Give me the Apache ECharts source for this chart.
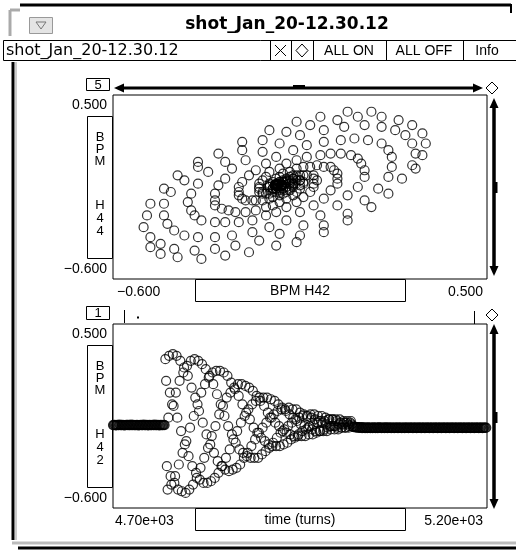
<!DOCTYPE html>
<html>
<head>
<meta charset="utf-8">
<script src="https://cdn.jsdelivr.net/npm/echarts@6.0.0/dist/echarts.min.js"></script>
<style>
html, body { margin: 0; padding: 0; background: #fff; }
#main { width: 516px; height: 550px; }
</style>
</head>
<body>
<div id="main"></div>
<script>
// turn numbers: first recorded turn and the turn of the kick
var firstTurn = 4700;
var kickTurn = 4770;

// BPM H42 before the kick (one value per turn, 4700..4769)
var h42Before = [
  -0.104,-0.105,-0.103,-0.104,-0.106,-0.104,-0.103,-0.105,-0.104,-0.102,
  -0.104,-0.105,-0.104,-0.103,-0.104,-0.106,-0.104,-0.105,-0.103,-0.104,
  -0.103,-0.104,-0.105,-0.104,-0.102,-0.104,-0.105,-0.103,-0.104,-0.104,
  -0.105,-0.104,-0.103,-0.104,-0.106,-0.104,-0.104,-0.103,-0.105,-0.104,
  -0.104,-0.102,-0.104,-0.105,-0.104,-0.103,-0.104,-0.106,-0.104,-0.103,
  -0.105,-0.104,-0.104,-0.103,-0.104,-0.105,-0.102,-0.104,-0.104,-0.105,
  -0.103,-0.104,-0.106,-0.104,-0.103,-0.104,-0.105,-0.104,-0.103,-0.104
];
// BPM H44 before the kick
var h44Before = [
  -0.040,-0.042,-0.038,-0.041,-0.039,-0.040,-0.043,-0.040,-0.038,-0.041,
  -0.039,-0.040,-0.042,-0.040,-0.037,-0.041,-0.040,-0.039,-0.042,-0.040,
  -0.041,-0.038,-0.040,-0.042,-0.039,-0.040,-0.041,-0.038,-0.040,-0.043,
  -0.040,-0.039,-0.041,-0.040,-0.038,-0.042,-0.040,-0.039,-0.041,-0.040,
  -0.038,-0.040,-0.042,-0.039,-0.040,-0.041,-0.037,-0.040,-0.042,-0.040,
  -0.039,-0.041,-0.040,-0.038,-0.042,-0.040,-0.039,-0.041,-0.040,-0.038,
  -0.040,-0.042,-0.039,-0.040,-0.041,-0.038,-0.040,-0.042,-0.040,-0.039
];

// BPM H42 after the kick (turns 4770..5019)
var h42Kick = [
   0.29, 0.16,-0.35,-0.49,-0.06,  0.31, 0.09,-0.41,-0.46, 0.02,
   0.32, 0.01,-0.45,-0.41, 0.09,  0.31,-0.06,-0.49,-0.34, 0.16,
   0.28,-0.14,-0.50,-0.27, 0.21,  0.24,-0.22,-0.51,-0.20, 0.25,
   0.19,-0.29,-0.49,-0.12, 0.28,  0.12,-0.35,-0.46,-0.05, 0.29,
   0.06,-0.39,-0.42, 0.02, 0.28, -0.02,-0.43,-0.36, 0.09, 0.26,
  -0.09,-0.45,-0.30, 0.14, 0.23, -0.16,-0.45,-0.24, 0.18, 0.19,
  -0.22,-0.44,-0.17, 0.21, 0.14, -0.27,-0.42,-0.11, 0.22, 0.08,
  -0.32,-0.39,-0.04, 0.22, 0.02, -0.35,-0.35, 0.01, 0.21,-0.05,
  -0.37,-0.30, 0.06, 0.19,-0.11, -0.38,-0.25, 0.09, 0.15,-0.16,
  -0.37,-0.19, 0.12, 0.11,-0.21, -0.36,-0.14, 0.14, 0.07,-0.25,
  -0.34,-0.09, 0.14, 0.02,-0.27, -0.30,-0.05, 0.13,-0.03,-0.29,
  -0.27,-0.01, 0.12,-0.07,-0.30, -0.23, 0.02, 0.10,-0.12,-0.30,
  -0.19, 0.04, 0.07,-0.15,-0.30, -0.15, 0.06, 0.04,-0.18,-0.28,
  -0.12, 0.06, 0.01,-0.20,-0.26, -0.09, 0.06,-0.03,-0.22,-0.24,
  -0.06, 0.05,-0.06,-0.23,-0.21, -0.04, 0.04,-0.09,-0.23,-0.18,
  -0.02, 0.02,-0.11,-0.23,-0.15, -0.01, 0.00,-0.14,-0.22,-0.13,
  -0.01,-0.02,-0.15,-0.21,-0.11,  0.00,-0.04,-0.16,-0.19,-0.09,
  -0.01,-0.06,-0.17,-0.18,-0.07, -0.01,-0.08,-0.17,-0.16,-0.06,
  -0.03,-0.10,-0.17,-0.14,-0.05, -0.04,-0.11,-0.17,-0.13,-0.05,
  -0.05,-0.12,-0.16,-0.11,-0.04, -0.06,-0.13,-0.16,-0.10,-0.04,
  -0.07,-0.14,-0.15,-0.09,-0.05, -0.08,-0.14,-0.14,-0.08,-0.05,
  -0.09,-0.14,-0.13,-0.08,-0.06, -0.10,-0.14,-0.12,-0.07,-0.07,
  -0.11,-0.13,-0.11,-0.07,-0.07, -0.11,-0.13,-0.11,-0.07,-0.08,
  -0.12,-0.13,-0.10,-0.07,-0.09, -0.12,-0.12,-0.10,-0.08,-0.09,
  -0.12,-0.12,-0.09,-0.08,-0.10, -0.12,-0.11,-0.09,-0.08,-0.10
];
// BPM H44 after the kick (turns 4770..5019)
var h44Kick = [
   0.06, 0.40, 0.10,-0.41,-0.38,  0.14, 0.40, 0.02,-0.45,-0.32,
   0.21, 0.37,-0.06,-0.47,-0.25,  0.27, 0.34,-0.15,-0.48,-0.17,
   0.32, 0.29,-0.22,-0.46,-0.09,  0.35, 0.22,-0.29,-0.44, 0.00,
   0.37, 0.15,-0.35,-0.40, 0.08,  0.37, 0.07,-0.39,-0.34, 0.15,
   0.35,-0.01,-0.42,-0.28, 0.21,  0.32,-0.08,-0.43,-0.21, 0.26,
   0.28,-0.15,-0.42,-0.13, 0.29,  0.23,-0.22,-0.40,-0.06, 0.31,
   0.17,-0.27,-0.37, 0.01, 0.32,  0.10,-0.31,-0.33, 0.07, 0.31,
   0.04,-0.34,-0.28, 0.13, 0.29, -0.03,-0.35,-0.22, 0.17, 0.26,
  -0.09,-0.35,-0.16, 0.21, 0.21, -0.14,-0.34,-0.10, 0.23, 0.16,
  -0.19,-0.32,-0.05, 0.24, 0.11, -0.22,-0.29, 0.01, 0.23, 0.06,
  -0.25,-0.25, 0.05, 0.22, 0.00, -0.26,-0.20, 0.09, 0.20,-0.04,
  -0.26,-0.16, 0.12, 0.17,-0.09, -0.26,-0.12, 0.14, 0.13,-0.13,
  -0.25,-0.07, 0.15, 0.09,-0.16, -0.22,-0.03, 0.15, 0.05,-0.18,
  -0.20, 0.00, 0.14, 0.02,-0.19, -0.17, 0.03, 0.13,-0.02,-0.20,
  -0.14, 0.05, 0.11,-0.05,-0.20, -0.11, 0.07, 0.09,-0.08,-0.19,
  -0.08, 0.07, 0.06,-0.10,-0.17, -0.05, 0.08, 0.04,-0.12,-0.16,
  -0.03, 0.07, 0.01,-0.13,-0.14, -0.01, 0.07,-0.01,-0.13,-0.12,
   0.00, 0.06,-0.03,-0.13,-0.10,  0.02, 0.04,-0.05,-0.13,-0.08,
   0.02, 0.03,-0.06,-0.12,-0.06,  0.02, 0.01,-0.08,-0.11,-0.04,
   0.02, 0.00,-0.08,-0.10,-0.03,  0.02,-0.02,-0.09,-0.09,-0.02,
   0.02,-0.03,-0.09,-0.08,-0.01,  0.01,-0.04,-0.09,-0.07,-0.01,
   0.00,-0.05,-0.08,-0.06,-0.01, -0.01,-0.05,-0.08,-0.05, 0.00,
  -0.02,-0.06,-0.08,-0.04, 0.00, -0.02,-0.06,-0.07,-0.03,-0.01,
  -0.03,-0.06,-0.06,-0.03,-0.01, -0.04,-0.06,-0.06,-0.03,-0.02,
  -0.04,-0.06,-0.05,-0.03,-0.02, -0.04,-0.06,-0.05,-0.02,-0.02
];

// BPM H42 once the oscillation has died out (turns 5020..5199)
var h42After = [
  -0.112,-0.115,-0.117,-0.114,-0.118,-0.116,-0.119,-0.117,-0.120,-0.118,
  -0.121,-0.119,-0.117,-0.122,-0.120,-0.118,-0.121,-0.123,-0.119,-0.120,
  -0.122,-0.118,-0.121,-0.120,-0.123,-0.119,-0.121,-0.122,-0.118,-0.120,
  -0.121,-0.123,-0.120,-0.119,-0.122,-0.120,-0.118,-0.121,-0.120,-0.122,
  -0.119,-0.121,-0.120,-0.123,-0.120,-0.118,-0.121,-0.122,-0.120,-0.119,
  -0.121,-0.120,-0.122,-0.119,-0.120,-0.121,-0.123,-0.120,-0.119,-0.121,
  -0.120,-0.122,-0.120,-0.119,-0.121,-0.120,-0.122,-0.121,-0.119,-0.120,
  -0.122,-0.120,-0.121,-0.119,-0.120,-0.122,-0.121,-0.120,-0.119,-0.121,
  -0.120,-0.122,-0.120,-0.121,-0.119,-0.120,-0.122,-0.121,-0.120,-0.119,
  -0.121,-0.120,-0.122,-0.120,-0.121,-0.119,-0.120,-0.122,-0.121,-0.120,
  -0.119,-0.121,-0.120,-0.122,-0.120,-0.121,-0.119,-0.120,-0.122,-0.121,
  -0.120,-0.119,-0.121,-0.120,-0.122,-0.120,-0.121,-0.119,-0.120,-0.122,
  -0.121,-0.120,-0.119,-0.121,-0.120,-0.122,-0.120,-0.121,-0.119,-0.120,
  -0.122,-0.121,-0.120,-0.119,-0.121,-0.120,-0.122,-0.120,-0.121,-0.119,
  -0.120,-0.122,-0.121,-0.120,-0.119,-0.121,-0.120,-0.122,-0.120,-0.121,
  -0.119,-0.120,-0.122,-0.121,-0.120,-0.119,-0.121,-0.120,-0.122,-0.120,
  -0.121,-0.119,-0.120,-0.122,-0.121,-0.120,-0.119,-0.121,-0.120,-0.122,
  -0.120,-0.121,-0.119,-0.120,-0.122,-0.121,-0.120,-0.119,-0.121,-0.120
];
// BPM H44 once the oscillation has died out (turns 5020..5199)
var h44After = [
  -0.030,-0.036,-0.042,-0.034,-0.040,-0.038,-0.035,-0.041,-0.037,-0.039,
  -0.040,-0.036,-0.038,-0.041,-0.039,-0.037,-0.040,-0.038,-0.042,-0.039,
  -0.038,-0.040,-0.037,-0.039,-0.041,-0.038,-0.040,-0.039,-0.037,-0.040,
  -0.041,-0.038,-0.039,-0.040,-0.037,-0.039,-0.041,-0.038,-0.040,-0.039,
  -0.038,-0.040,-0.039,-0.037,-0.041,-0.039,-0.038,-0.040,-0.039,-0.041,
  -0.039,-0.038,-0.040,-0.039,-0.037,-0.040,-0.041,-0.038,-0.039,-0.040,
  -0.038,-0.040,-0.039,-0.041,-0.038,-0.039,-0.040,-0.037,-0.039,-0.040,
  -0.041,-0.039,-0.038,-0.040,-0.039,-0.038,-0.040,-0.041,-0.039,-0.038,
  -0.040,-0.039,-0.037,-0.040,-0.041,-0.038,-0.039,-0.040,-0.038,-0.039,
  -0.041,-0.040,-0.038,-0.039,-0.040,-0.037,-0.039,-0.041,-0.040,-0.038,
  -0.039,-0.040,-0.038,-0.041,-0.039,-0.038,-0.040,-0.039,-0.037,-0.040,
  -0.041,-0.038,-0.039,-0.040,-0.038,-0.039,-0.041,-0.040,-0.038,-0.039,
  -0.040,-0.037,-0.039,-0.041,-0.040,-0.038,-0.039,-0.040,-0.038,-0.041,
  -0.039,-0.040,-0.038,-0.039,-0.041,-0.040,-0.037,-0.039,-0.040,-0.038,
  -0.041,-0.039,-0.040,-0.038,-0.039,-0.040,-0.041,-0.038,-0.039,-0.040,
  -0.038,-0.039,-0.041,-0.040,-0.038,-0.039,-0.040,-0.037,-0.039,-0.041,
  -0.040,-0.038,-0.039,-0.040,-0.038,-0.041,-0.039,-0.040,-0.038,-0.039,
  -0.041,-0.040,-0.038,-0.039,-0.040,-0.038,-0.041,-0.039,-0.040,-0.038
];

// axis ranges and tick labels
var bpmRange = [-0.6, 0.5];
var turnRange = [4700, 5200];
var bpmTickLabels = ['\u22120.600', '0.500'];
var turnTickLabels = ['4.70e+03', '5.20e+03'];

var windowTitle = 'shot_Jan_20-12.30.12';
var toolbarButtons = ['ALL ON', 'ALL OFF', 'Info'];
var topXName = 'BPM H42';
var topYName = ['B', 'P', 'M', 'H', '4', '4'];
var bottomXName = 'time (turns)';
var bottomYName = ['B', 'P', 'M', 'H', '4', '2'];
var plotNumbers = ['5', '1'];


var chartDom = document.getElementById('main');
var myChart = echarts.init(chartDom, null, { renderer: 'canvas' });
var option;

var h42 = h42Before.concat(h42Kick, h42After);
var h44 = h44Before.concat(h44Kick, h44After);

var phaseData = [];
var timeData = [];
for (var i = 0; i < h42.length; i++) {
    phaseData.push([h42[i], h44[i]]);
    timeData.push([firstTurn + i, h42[i]]);
}

var FONT = 'Liberation Sans';

function bpmAxis(idx) {
    return {
        gridIndex: idx,
        type: 'value',
        min: bpmRange[0],
        max: bpmRange[1],
        interval: bpmRange[1] - bpmRange[0],
        axisLine: { show: false },
        axisTick: { show: false },
        splitLine: { show: false },
        axisLabel: {
            color: '#000',
            fontFamily: FONT,
            fontSize: 14,
            formatter: function (v, i) { return bpmTickLabels[i]; }
        }
    };
}

function yAxisOf(idx) {
    var a = bpmAxis(idx);
    a.axisLabel.margin = 6;
    a.axisLabel.padding = [3, 0, 3, 0];
    a.axisLabel.verticalAlignMinLabel = 'bottom';
    a.axisLabel.verticalAlignMaxLabel = 'top';
    return a;
}

var topX = bpmAxis(0);
topX.axisLabel.margin = 6;
topX.axisLabel.padding = [0, 4, 0, 4];
topX.axisLabel.alignMinLabel = 'left';
topX.axisLabel.alignMaxLabel = 'right';

var bottomX = {
    gridIndex: 1,
    type: 'value',
    min: turnRange[0],
    max: turnRange[1],
    interval: turnRange[1] - turnRange[0],
    axisLine: { show: false },
    axisTick: { show: false },
    splitLine: { show: false },
    axisLabel: {
        color: '#000',
        fontFamily: FONT,
        fontSize: 14,
        margin: 6,
        padding: [0, 4, 0, 2],
        alignMinLabel: 'left',
        alignMaxLabel: 'right',
        formatter: function (v, i) { return turnTickLabels[i]; }
    }
};

// ---- window decorations ----
var g = [];
function rect(x, y, w, h, fill, stroke, lw) {
    g.push({ type: 'rect', shape: { x: x, y: y, width: w, height: h },
        style: { fill: fill || 'none', stroke: stroke || null, lineWidth: lw || 1 }, silent: true });
}
function line(x1, y1, x2, y2, stroke, lw) {
    g.push({ type: 'line', shape: { x1: x1, y1: y1, x2: x2, y2: y2 },
        style: { stroke: stroke || '#000', lineWidth: lw || 1 }, silent: true });
}
function poly(points, fill, stroke) {
    g.push({ type: 'polygon', shape: { points: points },
        style: { fill: fill || 'none', stroke: stroke || null, lineWidth: 1 }, silent: true });
}
function text(x, y, s, size, align, weight, family) {
    g.push({ type: 'text', x: x, y: y, silent: true,
        style: { text: s, fill: '#000', fontSize: size, fontFamily: family || FONT,
            fontWeight: weight || 'normal', align: align || 'left', verticalAlign: 'middle' } });
}

// frame
line(20, 5, 511, 5, '#000', 3);
line(511, 4, 511, 13, '#000', 2);
line(10, 10, 20, 10, '#aaa', 3);
line(10, 10, 10, 36, '#aaa', 3);
line(13, 62, 13, 540, '#000', 3);
line(16, 62, 16, 540, '#ccc', 2);
line(12, 543, 516, 543, '#bbb', 3);
line(18, 548, 516, 548, '#000', 3);
// title bar
rect(29.5, 17.5, 23, 16, '#e4e4e4', '#999', 1);
poly([[36, 22], [46, 22], [41, 29]], 'none', '#777');
text(287, 25, windowTitle, 17, 'center', 'bold', 'DejaVu Sans');
// toolbar
rect(3.5, 40.5, 520, 20, '#fff', '#000', 1);
line(270.5, 40, 270.5, 61);
line(291.5, 40, 291.5, 61);
line(313.5, 40, 313.5, 61);
line(386.5, 40, 386.5, 61);
line(463.5, 40, 463.5, 61);
text(6, 51, windowTitle, 16, 'left', 'normal', 'DejaVu Sans');
line(275, 45, 286, 56, '#000', 1);
line(286, 45, 275, 56, '#000', 1);
poly([[302, 44], [308, 50.5], [302, 57], [296, 50.5]], '#fff', '#000');
text(349, 51, toolbarButtons[0], 14, 'center');
text(424, 51, toolbarButtons[1], 14, 'center');
text(487, 51, toolbarButtons[2], 14, 'center');

// plot number boxes
rect(86.5, 78.5, 23, 12, '#fff', '#000', 1);
text(98, 85, plotNumbers[0], 13, 'center');
rect(86.5, 306.5, 23, 13, '#fff', '#000', 1);
text(98, 313.5, plotNumbers[1], 13, 'center');

// y title boxes
function yName(top, letters) {
    rect(87.5, top + 0.5, 25, 142, '#fff', '#000', 1);
    var offs = [21, 33, 45, 89, 102, 115];
    for (var k = 0; k < letters.length; k++) {
        text(100, top + offs[k], letters[k], 13, 'center');
    }
}
yName(116, topYName);
yName(345, bottomYName);

// x title boxes
rect(195.5, 279.5, 210, 22, '#fff', '#000', 1);
text(300, 291, topXName, 14, 'center');
rect(195.5, 508.5, 210, 22, '#fff', '#000', 1);
text(300, 520, bottomXName, 14, 'center');

// top horizontal slider
line(120, 88, 478, 88, '#000', 3);
poly([[114, 88], [124, 83.5], [124, 92.5]], '#000');
poly([[483, 88], [473, 83.5], [473, 92.5]], '#000');
rect(293, 85, 12, 3, '#000');
poly([[492, 82], [498, 88], [492, 94], [486, 88]], '#fff', '#000');
// top vertical slider
line(494, 104, 494, 270, '#000', 3.5);
poly([[494, 98], [489.5, 108], [498.5, 108]], '#000');
poly([[494, 276], [489.5, 266], [498.5, 266]], '#000');
rect(494, 182, 3.5, 11, '#000');
// bottom slider ticks
line(124.5, 310, 124.5, 323);
line(474.5, 311, 474.5, 324);
rect(137, 316.5, 2, 2, '#000');
poly([[492, 309], [498, 315], [492, 321], [486, 315]], '#fff', '#000');
// bottom vertical slider
line(494, 330, 494, 503, '#000', 3.5);
poly([[494, 324], [489.5, 334], [498.5, 334]], '#000');
poly([[494, 509], [489.5, 499], [498.5, 499]], '#000');
rect(494, 412, 3.5, 11, '#000');

var markStyle = {
    color: 'rgba(0,0,0,0)',
    borderColor: '#000',
    borderWidth: 1.2
};

option = {
    animation: false,
    backgroundColor: '#fff',
    grid: [
        { left: 113, top: 95, width: 374, height: 184, show: true, borderColor: '#000', borderWidth: 1, backgroundColor: '#fff' },
        { left: 113, top: 324, width: 374, height: 184, show: true, borderColor: '#000', borderWidth: 1, backgroundColor: '#fff' }
    ],
    xAxis: [topX, bottomX],
    yAxis: [yAxisOf(0), yAxisOf(1)],
    graphic: { elements: g },
    series: [
        {
            type: 'scatter',
            xAxisIndex: 0,
            yAxisIndex: 0,
            symbol: 'circle',
            symbolSize: 9,
            itemStyle: markStyle,
            data: phaseData
        },
        {
            type: 'scatter',
            xAxisIndex: 1,
            yAxisIndex: 1,
            symbol: 'circle',
            symbolSize: 9,
            itemStyle: markStyle,
            data: timeData
        }
    ]
};

option && myChart.setOption(option);
</script>
</body>
</html>
